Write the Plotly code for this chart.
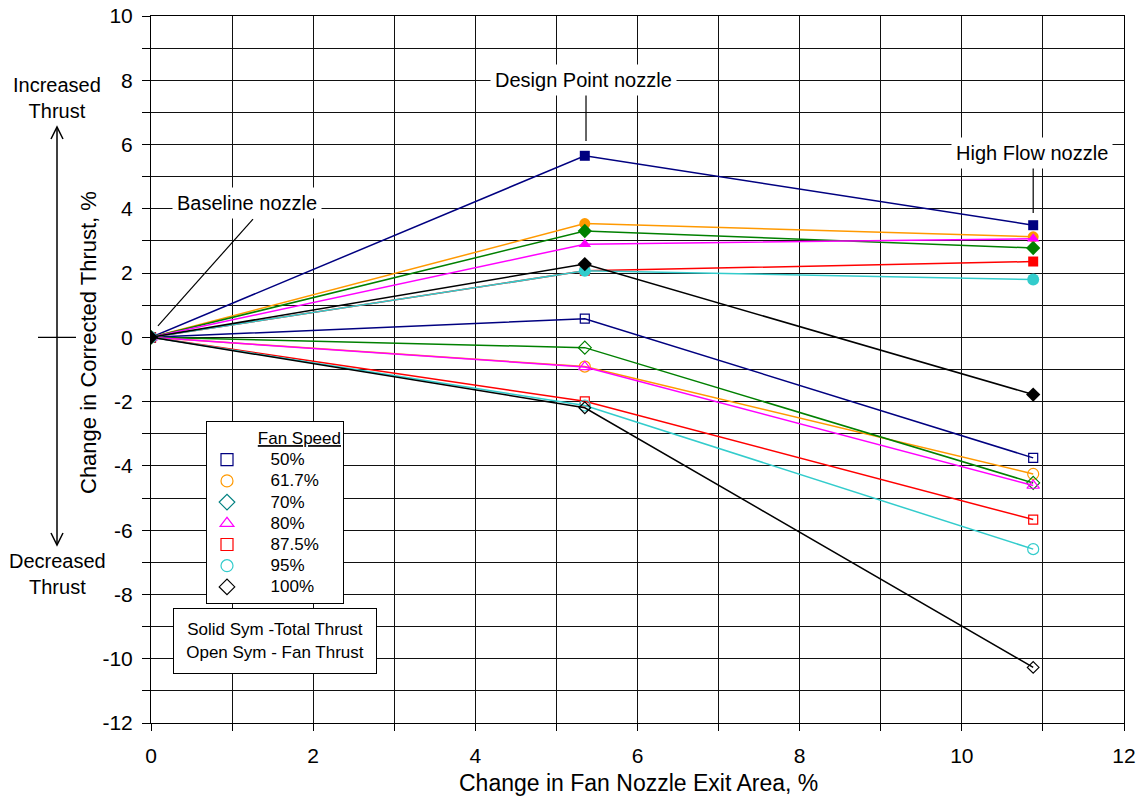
import plotly.graph_objects as go

# ---------------- data ----------------
x_area = [0, 5.35, 10.88]  # Change in Fan Nozzle Exit Area, %

fan_speeds = ["50%", "61.7%", "70%", "80%", "87.5%", "95%", "100%"]

# Solid symbols - total thrust change, %
total_50 = [0, 5.65, 3.49]
total_617 = [0, 3.54, 3.13]
total_70 = [0, 3.31, 2.78]
total_80 = [0, 2.90, 3.07]
total_875 = [0, 2.07, 2.36]
total_95 = [0, 2.07, 1.80]
total_100 = [0, 2.28, -1.78]

# Open symbols - fan thrust change, %
fan_50 = [0, 0.58, -3.75]
fan_617 = [0, -0.91, -4.25]
fan_70 = [0, -0.32, -4.53]
fan_80 = [0, -0.92, -4.61]
fan_875 = [0, -1.99, -5.67]
fan_95 = [0, -2.12, -6.59]
fan_100 = [0, -2.19, -10.27]

x_ticks = [0, 2, 4, 6, 8, 10, 12]
x_tick_labels = ["0", "2", "4", "6", "8", "10", "12"]
y_ticks = [-12, -10, -8, -6, -4, -2, 0, 2, 4, 6, 8, 10]
y_tick_labels = ["-12", "-10", "-8", "-6", "-4", "-2", "0", "2", "4", "6", "8", "10"]

total_series = [total_50, total_617, total_70, total_80, total_875, total_95, total_100]
fan_series = [fan_50, fan_617, fan_70, fan_80, fan_875, fan_95, fan_100]

# ---------------- styles ----------------
colors = ["#000080", "#FF9900", "#008000", "#FF00FF", "#FF0000", "#33CCCC", "#000000"]
legend_colors = ["#000080", "#FF9900", "#008080", "#FF00FF", "#FF0000", "#33CCCC", "#000000"]
symbols = ["square", "circle", "diamond", "triangle-up", "square", "circle", "diamond"]
solid_sizes = [10, 11, 11, 11, 10, 12, 11]
open_sizes = [9, 11, 10, 11, 9, 11, 9]

FONT = "Liberation Sans, Arial, sans-serif"

fig = go.Figure()

for i, fs in enumerate(fan_speeds):
    fig.add_trace(go.Scatter(
        x=x_area, y=fan_series[i], mode="lines+markers",
        line=dict(color=colors[i], width=1.5),
        marker=dict(symbol=symbols[i] + "-open", size=open_sizes[i], color=colors[i],
                    line=dict(color=colors[i], width=1.2)),
        showlegend=False, name=fs + " fan thrust"))

for i, fs in enumerate(fan_speeds):
    fig.add_trace(go.Scatter(
        x=x_area, y=total_series[i], mode="lines+markers",
        line=dict(color=colors[i], width=1.5),
        marker=dict(symbol=symbols[i], size=solid_sizes[i], color=colors[i],
                    line=dict(width=0)),
        showlegend=False, name=fs + " total thrust"))

# legend-only entries (open symbols)
for i, fs in enumerate(fan_speeds):
    fig.add_trace(go.Scatter(
        x=[None], y=[None], mode="markers",
        marker=dict(symbol=symbols[i] + "-open", size=12, color=legend_colors[i],
                    line=dict(color=legend_colors[i], width=1.2)),
        name="<span style='font-size:17px'>&nbsp;&nbsp;&nbsp;&nbsp;&nbsp;" + fs
             + "&nbsp;&nbsp;&nbsp;&nbsp;</span>",
        showlegend=True))

W, H = 1143, 799
ML, MR, MT, MB = 151, 19, 16, 76
PW, PH = W - ML - MR, H - MT - MB


def px_x(px):
    return (px - ML) / PW


def px_y(py):
    return (H - MB - py) / PH


axis_common = dict(
    showgrid=True, gridcolor="#111111", gridwidth=1,
    showline=True, linecolor="black", linewidth=1, mirror=True,
    zeroline=False,
    ticks="outside", tickcolor="black", tickwidth=1,
    tickfont=dict(family=FONT, size=21, color="black"),
)

fig.update_layout(
    width=W, height=H,
    margin=dict(l=ML, r=MR, t=MT, b=MB, autoexpand=False),
    paper_bgcolor="white", plot_bgcolor="white",
    font=dict(family=FONT, color="black"),
    xaxis=dict(range=[0, 12], tickvals=x_ticks, ticktext=x_tick_labels, ticklen=7,
               ticklabelstandoff=7,
               minor=dict(dtick=1, tick0=0, ticks="outside", ticklen=7, tickcolor="black",
                          showgrid=True, gridcolor="#111111", gridwidth=1),
               **axis_common),
    yaxis=dict(range=[-12, 10], tickvals=y_ticks, ticktext=y_tick_labels, ticklen=8,
               ticklabelstandoff=5,
               minor=dict(dtick=1, tick0=0, ticks="outside", ticklen=8, tickcolor="black",
                          showgrid=True, gridcolor="#111111", gridwidth=1),
               **axis_common),
    legend=dict(
        x=px_x(206), y=px_y(421), xanchor="left", yanchor="top",
        bgcolor="white", bordercolor="black", borderwidth=1,
        font=dict(family=FONT, size=14, color="black"),
        title=dict(text="<u>Fan Speed</u>", side="top right",
                   font=dict(family=FONT, size=17, color="black")),
        tracegroupgap=0,
    ),
    showlegend=True,
)

C = dict(xanchor="center", yanchor="middle", showarrow=False)
annotations = [
    # axis titles
    dict(text="Change in Fan Nozzle Exit Area, %", xref="paper", yref="paper",
         x=px_x(638), y=px_y(783), font=dict(size=23), **C),
    dict(text="Change in Corrected Thrust, %", xref="paper", yref="paper",
         x=px_x(88), y=px_y(343), textangle=-90, font=dict(size=22), **C),
    # side notes
    dict(text="Increased<br>Thrust", xref="paper", yref="paper",
         x=px_x(57), y=px_y(98), font=dict(size=20), **C),
    dict(text="Decreased<br>Thrust", xref="paper", yref="paper",
         x=px_x(57), y=px_y(574), font=dict(size=20), **C),
    # nozzle labels
    dict(text="Design Point nozzle", xref="x", yref="y", x=5.33, y=8.01,
         bgcolor="white", borderpad=4, font=dict(size=20), **C),
    dict(text="High Flow nozzle", xref="x", yref="y", x=10.87, y=5.74,
         bgcolor="white", borderpad=4, font=dict(size=20), **C),
    dict(text="Baseline nozzle", xref="x", yref="y", x=1.18, y=4.18,
         bgcolor="white", borderpad=4, font=dict(size=20), **C),
    # symbol note box
    dict(text="Solid Sym -Total Thrust<br>Open Sym - Fan Thrust", xref="paper", yref="paper",
         x=px_x(274.5), y=px_y(640.5), bgcolor="white",
         bordercolor="black", borderwidth=1, width=200, height=62, borderpad=1,
         font=dict(size=17), **C),
]

ax = px_x(57)
top_y, bot_y = px_y(127), px_y(545)
dx, dy = 6 / PW, 12 / PH
shapes = [
    dict(type="line", xref="x", yref="y", x0=x_area[1] + 0.015, x1=x_area[1] + 0.015, y0=7.54, y1=6.11,
         line=dict(color="black", width=1.2)),
    dict(type="line", xref="x", yref="y", x0=x_area[2], x1=x_area[2], y0=5.36, y1=3.87,
         line=dict(color="black", width=1.2)),
    dict(type="line", xref="x", yref="y", x0=1.258, x1=0.086, y0=3.68, y1=0.355,
         line=dict(color="black", width=1.2)),
    # double-headed arrow at left
    dict(type="line", xref="paper", yref="paper", x0=ax, x1=ax, y0=top_y, y1=bot_y,
         line=dict(color="black", width=1.5)),
    dict(type="path", xref="paper", yref="paper",
         path=f"M {ax - dx},{top_y - dy} L {ax},{top_y} L {ax + dx},{top_y - dy}",
         line=dict(color="black", width=1.5)),
    dict(type="path", xref="paper", yref="paper",
         path=f"M {ax - dx},{bot_y + dy} L {ax},{bot_y} L {ax + dx},{bot_y + dy}",
         line=dict(color="black", width=1.5)),
    # zero marker line at left
    dict(type="line", xref="paper", yref="y", x0=px_x(38), x1=px_x(76), y0=0, y1=0,
         line=dict(color="black", width=1.2)),
]

fig.update_layout(annotations=annotations, shapes=shapes)

fig.write_html("out.html", config={"displayModeBar": False},
               post_script="document.body.style.margin='0px';document.body.style.padding='0px';")
